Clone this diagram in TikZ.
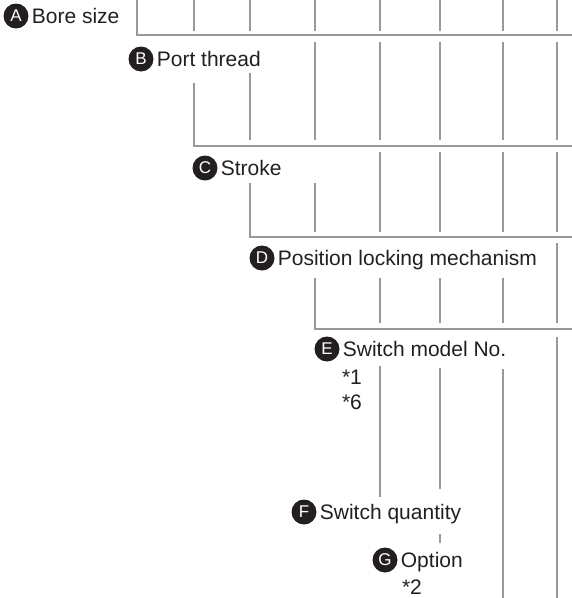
\documentclass[tikz,border=0pt]{standalone}
\usepackage{fontspec}
\setmainfont{Liberation Sans}
\usetikzlibrary{positioning}
\definecolor{Ink}{HTML}{231F20}
\definecolor{Rule}{HTML}{98989D}

\begin{document}
\begin{tikzpicture}[
  x=1pt, y=-1pt,
  key/.style={circle, fill=Ink, text=white, minimum size=25pt, inner sep=0pt, font=\fontsize{17}{17}\selectfont},
  lbl/.style={inner sep=0pt, text height=15pt, text depth=0pt, text=Ink, font=\fontsize{21}{25}\selectfont, right=3pt of #1},
  note/.style={inner sep=0pt, text=Ink, font=\fontsize{21}{25}\selectfont},
  rule/.style={draw=Rule, line width=2pt}
]
  \useasboundingbox (0,0) rectangle (572,598);

  \node[key] (keyA) at (16,16) {A};
  \node[lbl=keyA] (bore) {Bore size};
  \node[key] (keyB) at (141,59) {B};
  \node[lbl=keyB] (port) {Port thread};
  \node[key] (keyC) at (205,168) {C};
  \node[lbl=keyC] (stroke) {Stroke};
  \node[key] (keyD) at (262,258) {D};
  \node[lbl=keyD] (lock) {Position locking mechanism};
  \node[key] (keyE) at (327,349) {E};
  \node[lbl=keyE] (model) {Switch model No.};
  \node[key] (keyF) at (304,512) {F};
  \node[lbl=keyF] (qty) {Switch quantity};
  \node[key] (keyG) at (385,560) {G};
  \node[lbl=keyG] (opt) {Option};
  \node[note] (note1) at (352,377) {*1};
  \node[note] (note6) at (352,402) {*6};
  \node[note] (note2) at (412,587) {*2};

  % A
  \draw[rule] (137,0) -- (137,35) -- (572,35);
  \foreach \x in {194,250,315,380,440,503,557}
    \draw[rule] (\x,0) -- (\x,31);
  % B
  \draw[rule] (194,83) -- (194,146) -- (572,146);
  \draw[rule] (250,73) -- (250,140);
  \foreach \x in {315,380,440,503,557}
    \draw[rule] (\x,42) -- (\x,140);
  % C
  \draw[rule] (250,183) -- (250,237) -- (572,237);
  \draw[rule] (315,183) -- (315,232);
  \foreach \x in {380,440,503,557}
    \draw[rule] (\x,152) -- (\x,232);
  % D
  \draw[rule] (315,278) -- (315,329) -- (572,329);
  \foreach \x in {380,440,503}
    \draw[rule] (\x,278) -- (\x,323);
  \draw[rule] (557,243) -- (557,323);
  % E, F, G
  \draw[rule] (380,366) -- (380,497);
  \draw[rule] (440,368) -- (440,489);
  \draw[rule] (440,534) -- (440,543);
  \draw[rule] (503,369) -- (503,598);
  \draw[rule] (557,337) -- (557,598);
\end{tikzpicture}
\end{document}
